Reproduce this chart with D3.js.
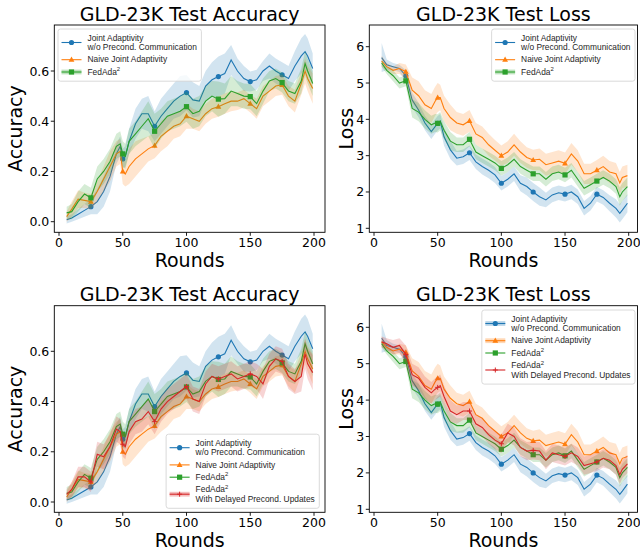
<!DOCTYPE html>
<html>
<head>
<meta charset="utf-8">
<script src="https://cdn.jsdelivr.net/npm/d3@7"></script>
<style>
  body { margin: 0; background: #fff; }
  svg { display: block; }
</style>
</head>
<body>
<svg id="chart" width="640" height="550"></svg>
<script>
// --- Data ---
const rounds = [6,10,15,20,25,30,35,40,45,48,50,52,55,60,65,70,75,80,85,90,95,100,105,110,115,120,125,130,135,140,145,150,155,160,165,170,175,180,185,190,193,195,199];

// test accuracy (mean) and band half-width
const accJoint   = [0.008,0.015,0.03,0.045,0.06,0.08,0.12,0.18,0.27,0.30, 0.25,0.26,0.32,0.39,0.43,0.43,0.38,0.42,0.45,0.48, 0.50,0.514,0.485,0.48,0.54,0.565,0.578,0.59,0.644,0.60, 0.57,0.558,0.565,0.60,0.62,0.60,0.585,0.57,0.62,0.66, 0.677,0.66,0.61];
const accNaive   = [0.02,0.05,0.09,0.085,0.08,0.12,0.17,0.22,0.27,0.28, 0.20,0.19,0.22,0.25,0.27,0.29,0.303,0.34,0.36,0.38, 0.39,0.42,0.41,0.40,0.43,0.45,0.458,0.47,0.48,0.48, 0.49,0.47,0.45,0.50,0.52,0.54,0.545,0.50,0.48,0.55, 0.60,0.57,0.53];
const accFed     = [0.035,0.04,0.08,0.11,0.095,0.17,0.20,0.24,0.30,0.31, 0.27,0.26,0.32,0.35,0.38,0.41,0.36,0.39,0.42,0.43, 0.44,0.458,0.43,0.44,0.48,0.50,0.488,0.49,0.52,0.51, 0.50,0.498,0.47,0.52,0.56,0.57,0.554,0.52,0.51,0.56, 0.63,0.60,0.55];
const accDelayed = [0.03,0.05,0.10,0.10,0.08,0.19,0.18,0.22,0.29,0.28, 0.23,0.22,0.28,0.32,0.33,0.36,0.32,0.37,0.40,0.42, 0.44,0.46,0.41,0.40,0.47,0.50,0.49,0.50,0.51,0.49, 0.50,0.51,0.50,0.47,0.54,0.57,0.56,0.50,0.48,0.50, 0.59,0.55,0.515];

const accJointSd   = [0.015,0.015,0.02,0.025,0.03,0.05,0.06,0.06,0.04,0.04, 0.04,0.04,0.05,0.06,0.06,0.07,0.06,0.07,0.07,0.07, 0.08,0.07,0.07,0.06,0.06,0.07,0.08,0.08,0.06,0.05, 0.05,0.04,0.04,0.04,0.05,0.05,0.05,0.05,0.06,0.07, 0.07,0.07,0.06];
const accNaiveSd   = [0.02,0.03,0.035,0.03,0.03,0.04,0.05,0.06,0.05,0.05, 0.05,0.05,0.07,0.07,0.06,0.05,0.05,0.06,0.06,0.05, 0.05,0.05,0.04,0.04,0.04,0.04,0.04,0.04,0.04,0.035, 0.035,0.035,0.04,0.04,0.04,0.04,0.04,0.04,0.045,0.045, 0.05,0.05,0.06];
const accFedSd     = [0.025,0.03,0.04,0.04,0.04,0.05,0.05,0.05,0.05,0.05, 0.05,0.05,0.05,0.05,0.06,0.07,0.07,0.06,0.06,0.06, 0.06,0.06,0.06,0.06,0.06,0.06,0.07,0.06,0.06,0.05, 0.05,0.05,0.05,0.05,0.04,0.04,0.04,0.04,0.04,0.05, 0.05,0.05,0.05];
const accDelayedSd = [0.02,0.03,0.04,0.04,0.04,0.05,0.05,0.05,0.05,0.05, 0.05,0.05,0.05,0.05,0.05,0.05,0.05,0.05,0.05,0.05, 0.05,0.05,0.05,0.05,0.05,0.05,0.05,0.05,0.05,0.05, 0.05,0.05,0.05,0.06,0.05,0.05,0.05,0.05,0.05,0.06, 0.06,0.06,0.07];

// test loss (mean) and band half-width
const lossJoint   = [5.7,5.5,5.45,5.4,5.2,4.53,4.26,3.9,3.66,3.8, 3.89,3.95,3.52,3.16,2.93,2.97,3.08,2.83,2.7,2.6, 2.47,2.24,2.35,2.5,2.24,2.15,2.0,1.87,1.78,1.92, 1.98,1.94,2.0,1.87,1.55,1.69,1.94,1.85,1.69,1.55, 1.41,1.5,1.69];
const lossNaive   = [5.6,5.45,5.35,5.4,5.31,4.8,4.65,4.4,4.3,4.5, 4.6,4.6,4.3,4.05,3.9,3.85,3.96,3.6,3.5,3.3, 3.15,3.0,3.1,3.3,3.1,2.95,2.88,2.9,2.75,2.8, 2.85,2.79,3.05,2.85,2.5,2.5,2.6,2.7,2.55,2.5, 2.25,2.4,2.45];
const lossFed     = [5.55,5.35,5.2,5.0,5.06,4.3,4.2,4.0,3.85,3.9, 3.89,3.95,3.7,3.4,3.3,3.3,3.45,3.1,3.0,2.9, 2.8,2.65,2.75,2.9,2.7,2.6,2.5,2.5,2.35,2.5, 2.55,2.47,2.6,2.35,2.1,2.2,2.3,2.4,2.3,2.15, 1.87,2.0,2.15];
const lossDelayed = [5.6,5.55,5.45,5.5,5.25,4.7,4.6,4.35,4.2,4.3, 4.35,4.4,4.1,3.7,3.6,3.7,3.7,3.35,3.25,3.05, 2.9,2.8,3.1,3.0,2.7,2.6,2.62,2.6,2.35,2.55, 2.5,2.45,2.55,2.45,2.2,2.25,2.3,2.4,2.35,2.2, 1.95,2.1,2.25];

const lossJointSd   = [0.4,0.15,0.1,0.1,0.15,0.2,0.2,0.2,0.2,0.2, 0.2,0.2,0.25,0.25,0.2,0.2,0.2,0.2,0.22,0.22, 0.22,0.2,0.2,0.2,0.22,0.25,0.25,0.25,0.2,0.2, 0.2,0.2,0.2,0.2,0.2,0.2,0.2,0.2,0.22,0.25, 0.25,0.25,0.25];
const lossNaiveSd   = [0.15,0.1,0.1,0.15,0.2,0.35,0.4,0.4,0.4,0.4, 0.4,0.35,0.35,0.35,0.3,0.3,0.3,0.3,0.3,0.3, 0.28,0.28,0.3,0.3,0.3,0.28,0.28,0.3,0.3,0.3, 0.3,0.3,0.3,0.3,0.28,0.28,0.28,0.3,0.3,0.3, 0.3,0.3,0.3];
const lossFedSd     = [0.1,0.1,0.15,0.15,0.15,0.25,0.25,0.25,0.25,0.25, 0.25,0.25,0.25,0.25,0.2,0.2,0.2,0.2,0.2,0.2, 0.2,0.2,0.2,0.2,0.2,0.2,0.2,0.2,0.2,0.2, 0.2,0.2,0.2,0.2,0.2,0.2,0.2,0.2,0.2,0.2, 0.25,0.25,0.25];
const lossDelayedSd = [0.15,0.15,0.2,0.2,0.25,0.3,0.3,0.3,0.3,0.3, 0.3,0.3,0.3,0.3,0.25,0.25,0.25,0.25,0.25,0.25, 0.25,0.25,0.25,0.25,0.25,0.25,0.25,0.25,0.25,0.25, 0.25,0.25,0.25,0.25,0.25,0.25,0.25,0.25,0.25,0.25, 0.25,0.25,0.25];

const xTicks = [0, 50, 100, 150, 200];
const accTicks = [0.0, 0.2, 0.4, 0.6];
const lossTicks = [1, 2, 3, 4, 5, 6];

const methodLabels = [
  ['Joint Adaptivity', 'w/o Precond. Communication'],
  ['Naive Joint Adaptivity'],
  ['FedAda^2'],
  ['FedAda^2', 'With Delayed Precond. Updates']
];
const methodColors = ['#1f77b4', '#ff7f0e', '#2ca02c', '#d62728'];
const methodMarkers = ['circle', 'triangle', 'square', 'plus'];

// --- Layout ---
const FONT = 'DejaVu Sans, sans-serif';
const LEG_FONT = 'Liberation Sans, Arial, sans-serif';

const panels = [
  { box: {l: 54.3, t: 25, r: 325, b: 232.3}, xPx: [59, 314], yRef: [[0, 221.7], [0.6, 71]],
    ticks: accTicks, fmt: d3.format('.1f'), title: 'GLD-23K Test Accuracy', ylabel: 'Accuracy', ylabelX: 22,
    means: [accJoint, accNaive, accFed], sds: [accJointSd, accNaiveSd, accFedSd],
    legend: {left: 58, top: 29, band: [2]} },
  { box: {l: 369.3, t: 25, r: 637.5, b: 232.3}, xPx: [374, 628.7], yRef: [[1, 228.3], [6, 46.7]],
    ticks: lossTicks, fmt: d3.format('d'), title: 'GLD-23K Test Loss', ylabel: 'Loss', ylabelX: 353,
    means: [lossJoint, lossNaive, lossFed], sds: [lossJointSd, lossNaiveSd, lossFedSd],
    legend: {right: 635, top: 29, band: [2]} },
  { box: {l: 54.3, t: 305.7, r: 325, b: 512.3}, xPx: [59, 314], yRef: [[0, 502], [0.6, 351.3]],
    ticks: accTicks, fmt: d3.format('.1f'), title: 'GLD-23K Test Accuracy', ylabel: 'Accuracy', ylabelX: 22,
    means: [accJoint, accNaive, accFed, accDelayed], sds: [accJointSd, accNaiveSd, accFedSd, accDelayedSd],
    legend: {right: 319.3, bottom: 508.3, band: [3]} },
  { box: {l: 369.3, t: 305.7, r: 637.5, b: 512.3}, xPx: [374, 628.7], yRef: [[1, 509.3], [6, 327.3]],
    ticks: lossTicks, fmt: d3.format('d'), title: 'GLD-23K Test Loss', ylabel: 'Loss', ylabelX: 353,
    means: [lossJoint, lossNaive, lossFed, lossDelayed], sds: [lossJointSd, lossNaiveSd, lossFedSd, lossDelayedSd],
    legend: {right: 635, top: 310, band: [0, 1]} }
];

const svg = d3.select('#chart');

function drawMarker(g, type, x, y, color) {
  if (type === 'circle') {
    g.append('circle').attr('cx', x).attr('cy', y).attr('r', 2.6).attr('fill', color);
  } else if (type === 'triangle') {
    g.append('path').attr('transform', `translate(${x},${y})`)
      .attr('d', 'M0,-3.1L2.9,2.1L-2.9,2.1Z').attr('fill', color);
  } else if (type === 'square') {
    g.append('rect').attr('x', x - 2.6).attr('y', y - 2.6).attr('width', 5.2).attr('height', 5.2).attr('fill', color);
  } else {
    g.append('path').attr('transform', `translate(${x},${y})`)
      .attr('d', 'M-2.5,0H2.5M0,-2.5V2.5').attr('stroke', color).attr('stroke-width', 1);
  }
}

function addLabelText(sel, str) {
  const parts = str.split('^');
  sel.append('tspan').text(parts[0]);
  if (parts.length > 1) {
    sel.append('tspan').attr('dy', -3.4).attr('font-size', 5.9).text(parts[1]);
  }
}

function drawLegend(g, spec, count) {
  const lg = g.append('g');
  const textX = 29.5, lineStep = 9.6, entryStep = 12.3;
  const box = lg.append('rect').attr('rx', 2.5).attr('ry', 2.5)
    .attr('fill', '#fff').attr('fill-opacity', 0.8).attr('stroke', '#d0d0d0').attr('stroke-width', 0.8);
  let base = 11.5, maxW = 0;
  for (let k = 0; k < count; k++) {
    const lines = methodLabels[k];
    const hy = lines.length > 1 ? base + 2 : base - 2.7;
    if (spec.band.includes(k)) {
      lg.append('rect').attr('x', 3.5).attr('y', hy - 2.4).attr('width', 20).attr('height', 4.8)
        .attr('fill', methodColors[k]).attr('fill-opacity', 0.3);
    }
    lg.append('line').attr('x1', 3.5).attr('x2', 23.5).attr('y1', hy).attr('y2', hy)
      .attr('stroke', methodColors[k]).attr('stroke-width', 1.1);
    drawMarker(lg, methodMarkers[k], 13.5, hy, methodColors[k]);
    lines.forEach((ln, j) => {
      const t = lg.append('text').attr('x', textX).attr('y', base + j * lineStep)
        .attr('font-family', LEG_FONT).attr('font-size', 8.4).attr('fill', '#262626');
      addLabelText(t, ln);
      maxW = Math.max(maxW, t.node().getComputedTextLength());
    });
    base += (lines.length - 1) * lineStep + entryStep;
  }
  const w = textX + maxW + 4.5;
  const h = base - entryStep + 6.5;
  box.attr('width', w).attr('height', h);
  const left = spec.left !== undefined ? spec.left : spec.right - w;
  const top = spec.top !== undefined ? spec.top : spec.bottom - h;
  lg.attr('transform', `translate(${left},${top})`);
}

panels.forEach((p, pi) => {
  const b = p.box;
  const g = svg.append('g');
  const x = d3.scaleLinear().domain([0, 200]).range(p.xPx);
  const y = d3.scaleLinear().domain([p.yRef[0][0], p.yRef[1][0]]).range([p.yRef[0][1], p.yRef[1][1]]);

  const clipId = 'clip' + pi;
  svg.append('clipPath').attr('id', clipId).append('rect')
    .attr('x', b.l).attr('y', b.t).attr('width', b.r - b.l).attr('height', b.b - b.t);
  const plot = g.append('g').attr('clip-path', `url(#${clipId})`);

  p.means.forEach((m, k) => {
    const sd = p.sds[k];
    const pts = rounds.map((r, i) => ({r, v: m[i], s: sd[i]}));
    plot.append('path').datum(pts)
      .attr('fill', methodColors[k]).attr('fill-opacity', 0.2)
      .attr('d', d3.area().x(d => x(d.r)).y0(d => y(d.v - d.s)).y1(d => y(d.v + d.s)));
    plot.append('path').datum(pts)
      .attr('fill', 'none').attr('stroke', methodColors[k]).attr('stroke-width', 1.1)
      .attr('d', d3.line().x(d => x(d.r)).y(d => y(d.v)));
    pts.filter(d => d.r % 25 === 0).forEach(d => drawMarker(plot, methodMarkers[k], x(d.r), y(d.v), methodColors[k]));
  });

  // spines
  g.append('rect').attr('x', b.l).attr('y', b.t).attr('width', b.r - b.l).attr('height', b.b - b.t)
    .attr('fill', 'none').attr('stroke', '#000').attr('stroke-width', 0.9);

  // x ticks
  xTicks.forEach(t => {
    g.append('line').attr('x1', x(t)).attr('x2', x(t)).attr('y1', b.b).attr('y2', b.b + 3.5)
      .attr('stroke', '#000').attr('stroke-width', 0.9);
    g.append('text').attr('x', x(t)).attr('y', b.b + 14.4).attr('text-anchor', 'middle')
      .attr('font-family', FONT).attr('font-size', 12.5).text(t);
  });
  // y ticks
  p.ticks.forEach(t => {
    g.append('line').attr('x1', b.l - 3.5).attr('x2', b.l).attr('y1', y(t)).attr('y2', y(t))
      .attr('stroke', '#000').attr('stroke-width', 0.9);
    g.append('text').attr('x', b.l - 5).attr('y', y(t) + 4.5).attr('text-anchor', 'end')
      .attr('font-family', FONT).attr('font-size', 12.5).text(p.fmt(t));
  });

  const cx = (b.l + b.r) / 2, cy = (b.t + b.b) / 2;
  g.append('text').attr('x', cx).attr('y', b.t - 4.3).attr('text-anchor', 'middle')
    .attr('font-family', FONT).attr('font-size', 19).text(p.title);
  g.append('text').attr('x', cx).attr('y', b.b + 34.4).attr('text-anchor', 'middle')
    .attr('font-family', FONT).attr('font-size', 19).text('Rounds');
  g.append('text').attr('transform', `translate(${p.ylabelX},${cy}) rotate(-90)`).attr('text-anchor', 'middle')
    .attr('font-family', FONT).attr('font-size', 19).text(p.ylabel);

  drawLegend(g, p.legend, p.means.length);
});
</script>
</body>
</html>
